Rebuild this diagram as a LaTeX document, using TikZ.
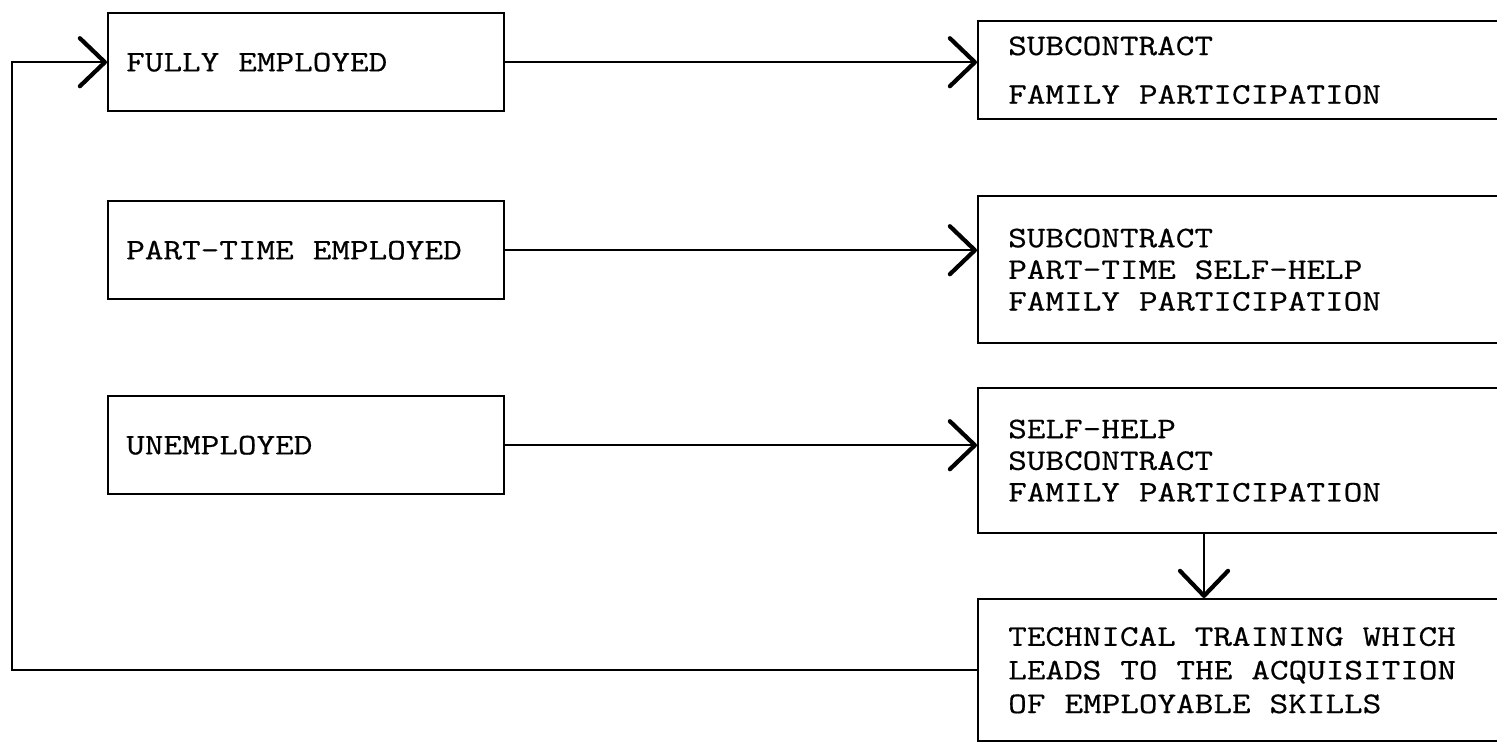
\documentclass[tikz,border=0pt]{standalone}
\usepackage{fontspec}
\setmonofont{Latin Modern Mono}[FakeStretch=1.21,FakeBold=0.6]
\usetikzlibrary{arrows.meta,positioning}

\begin{document}
\begin{tikzpicture}[x=0.2mm,y=-0.2mm,
  box/.style={draw,line width=1.4pt,anchor=north west,align=left,font=\ttfamily\fontsize{17}{18}\selectfont,
    execute at begin node={\spaceskip=10.8pt\relax}},
  status/.style={box,minimum width=7.92cm,minimum height=1.96cm,text width=7.2cm,inner xsep=0.36cm},
  option/.style={box,minimum width=11.4cm,text width=10.2cm,inner xsep=0.6cm},
  arr/.style={line width=1.2pt,-{Straight Barb[length=5mm,width=9.6mm,line width=2.4pt,round]}}]
  \useasboundingbox (0,0) rectangle (1497,742);
  \clip (0,0) rectangle (1497,742);
  \node[status] (full) at (107,12) {FULLY EMPLOYED};
  \node[status] (part) at (107,200) {PART-TIME EMPLOYED};
  \node[status] (unemp) at (107,395) {UNEMPLOYED};
  \node[option,minimum height=1.96cm] (fullopt) at (977,20) {SUBCONTRACT\\[0.34cm]FAMILY PARTICIPATION};
  \node[option,minimum height=2.94cm] (partopt) at (977,195) {SUBCONTRACT\\PART-TIME SELF-HELP\\FAMILY PARTICIPATION};
  \node[option,minimum height=2.9cm] (unempopt) at (977,387) {SELF-HELP\\SUBCONTRACT\\FAMILY PARTICIPATION};
  \node[option,minimum height=2.84cm] (training) at (977,598) {TECHNICAL TRAINING WHICH\\[0.04cm]LEADS TO THE ACQUISITION\\[0.04cm]OF EMPLOYABLE SKILLS};
  \coordinate (drop) at (1204,0);
  \coordinate (loop) at (12,0);
  \foreach \a/\b in {full/fullopt,part/partopt,unemp/unempopt}
    \draw[arr] (\a.east) -- (\a.east -| \b.west);
  \draw[arr] (unempopt.south -| drop) -- (training.north -| drop);
  \draw[arr] (training.west) -- (training.west -| loop) |- (full.west);
\end{tikzpicture}
\end{document}
